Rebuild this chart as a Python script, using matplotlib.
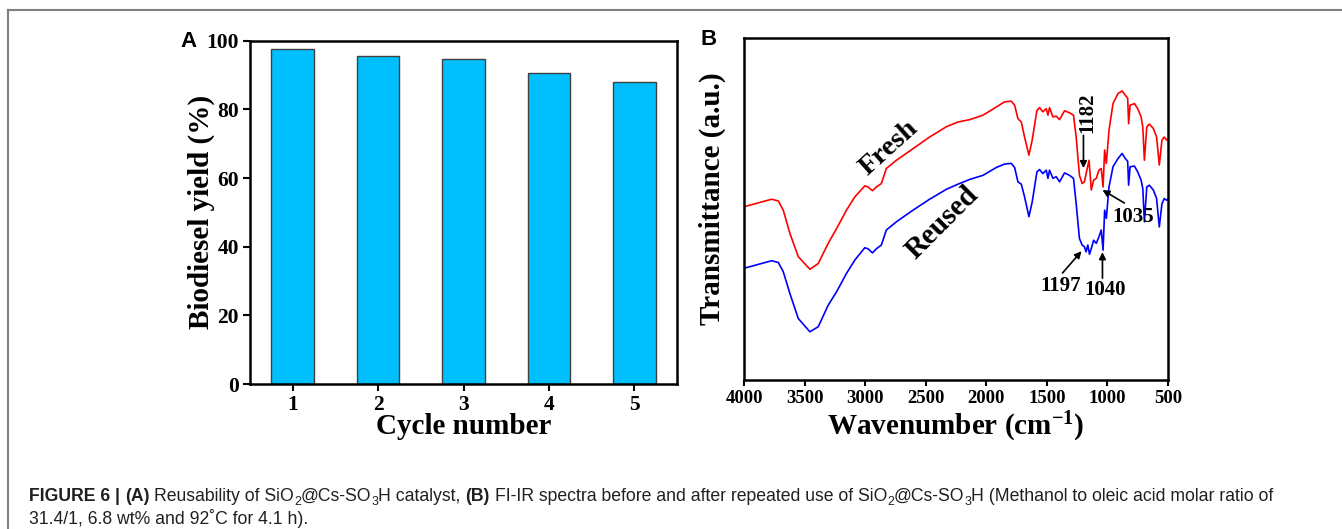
import matplotlib
matplotlib.use('Agg')
import matplotlib.pyplot as plt
from matplotlib import font_manager
from matplotlib.lines import Line2D

# ---- data -------------------------------------------------------------
cycles = [1, 2, 3, 4, 5]
yields = [97.5, 95.5, 94.6, 90.5, 87.9]

fresh_wn = [4000, 4000, 3772, 3717, 3676, 3621, 3552, 3456, 3387, 3305, 3236, 3154,
            3085, 3003, 2976, 2940, 2907, 2866, 2825, 2742, 2605, 2468,
            2330, 2234, 2137, 2027, 1917, 1849, 1794, 1766, 1739, 1711,
            1684, 1648, 1621, 1582, 1560, 1533, 1505, 1491, 1478, 1450,
            1423, 1395, 1354, 1313, 1280, 1258, 1231, 1209, 1190, 1170,
            1152, 1133, 1114, 1092, 1070, 1051, 1036, 1023, 1009, 987,
            954, 913, 879, 852, 833, 825, 813, 777, 750, 722,
            708, 695, 675, 654, 621, 594, 572, 550, 531, 511, 500]
fresh_t = [32.7, 50.7, 52.9, 52.4, 49.7, 42.9, 36.1, 32.4, 34.1, 40.0, 44.3, 49.7,
           53.6, 56.8, 56.5, 55.4, 56.5, 57.5, 61.9, 64.3, 67.7, 71.1,
           74.1, 75.5, 76.2, 77.5, 79.9, 81.4, 81.6, 80.4, 76.5, 75.5,
           71.1, 65.8, 70.2, 78.9, 79.7, 78.5, 79.4, 77.5, 79.7, 77.0,
           77.2, 76.2, 78.8, 78.2, 77.5, 71.1, 59.9, 57.5, 58.0, 61.4,
           64.3, 55.6, 58.5, 59.0, 61.4, 61.9, 56.5, 67.3, 63.4, 73.1,
           80.9, 83.8, 84.6, 83.3, 82.5, 75.0, 80.4, 80.9, 79.4, 77.0,
           74.0, 64.3, 74.1, 74.9, 73.6, 71.1, 62.9, 70.2, 71.1, 70.2, 70.5]

reused_wn = [4000, 4000, 3772, 3717, 3676, 3621, 3552, 3456, 3387, 3305, 3236, 3154,
             3085, 3003, 2976, 2940, 2907, 2866, 2825, 2742, 2605, 2468,
             2330, 2234, 2137, 2027, 1917, 1849, 1794, 1766, 1739, 1711,
             1684, 1648, 1621, 1582, 1560, 1533, 1505, 1491, 1478, 1450,
             1423, 1395, 1354, 1313, 1280, 1258, 1231, 1209, 1190, 1176,
             1162, 1148, 1133, 1114, 1092, 1070, 1051, 1036, 1023, 1009,
             987, 954, 913, 879, 852, 833, 825, 813, 777, 750,
             722, 708, 695, 675, 654, 621, 594, 572, 550, 531, 511, 500]
reused_t = [0.0, 32.7, 34.9, 34.4, 31.7, 25.3, 18.0, 14.1, 15.6, 21.9, 25.8, 31.2,
            35.1, 38.7, 38.4, 37.2, 38.4, 39.5, 43.9, 46.3, 49.7, 52.9,
            55.8, 57.3, 58.7, 59.9, 62.2, 63.2, 63.4, 62.2, 58.0, 57.3,
            53.6, 47.8, 52.1, 60.9, 61.6, 60.4, 61.4, 59.0, 61.4, 59.0,
            59.5, 58.0, 60.6, 59.9, 59.0, 51.6, 41.4, 39.5, 39.0, 37.5,
            39.5, 36.8, 38.5, 40.9, 40.0, 41.9, 43.9, 38.0, 49.7, 47.3,
            56.5, 62.4, 64.8, 66.3, 64.8, 64.0, 57.0, 62.4, 62.6, 60.9,
            58.5, 56.0, 46.3, 56.5, 57.0, 55.6, 53.1, 44.8, 51.6, 53.1, 52.6, 53.0]

# peak labels: text, text position, arrow tail, arrow tip, rotation
peak_labels = [
    ("1182", (1165, 78.1), (1198, 71.6), (1198, 62.0), 90),
    ("1035", (786, 47.7), (860, 51.8), (1041, 55.6), 0),
    ("1197", (1387, 27.5), (1371, 31.3), (1214, 37.7), 0),
    ("1040", (1016, 26.3), (1041, 29.8), (1041, 37.4), 0),
]

caption_line1 = [("FIGURE 6 | ", 'b'), ("(A)", 'b'), (" Reusability of SiO", 'n'), ("2", 's'),
                 ("@Cs-SO", 'n'), ("3", 's'), ("H catalyst, ", 'n'), ("(B)", 'b'),
                 (" FI-IR spectra before and after repeated use of SiO", 'n'), ("2", 's'),
                 ("@Cs-SO", 'n'), ("3", 's'), ("H (Methanol to oleic acid molar ratio of", 'n')]
caption_line2 = [("31.4/1, 6.8 wt% and 92˚C for 4.1 h).", 'n')]

# ---- style ------------------------------------------------------------
plt.rcParams['font.family'] = ['Liberation Serif', 'DejaVu Serif']
plt.rcParams['font.weight'] = 'bold'
plt.rcParams['mathtext.fontset'] = 'custom'
plt.rcParams['mathtext.rm'] = 'Liberation Serif:bold'
plt.rcParams['mathtext.bf'] = 'Liberation Serif:bold'
plt.rcParams['mathtext.default'] = 'bf'

W, H = 1342, 529
fig = plt.figure(figsize=(W / 100, H / 100), dpi=100)


def fx(px):
    return px / W


def fy(py):
    return 1 - py / H


# frame lines around the figure block
fig.add_artist(Line2D([fx(8), 1], [fy(10), fy(10)], transform=fig.transFigure,
                      color='#7f7f7f', lw=1.5))
fig.add_artist(Line2D([fx(8), fx(8)], [fy(10), 0], transform=fig.transFigure,
                      color='#7f7f7f', lw=1.5))

# ---- panel A ----------------------------------------------------------
axA = fig.add_axes([fx(250), fy(384), fx(677) - fx(250), fy(40.7) - fy(384)])
axA.bar(cycles, yields, width=0.5, color='#00BFFF', edgecolor='#404040', linewidth=1.0)
axA.set_xlim(0.5, 5.5)
axA.set_ylim(0, 100)
axA.set_xticks(cycles)
axA.set_yticks([0, 20, 40, 60, 80, 100])
axA.tick_params(direction='out', length=5, width=1.5, labelsize=15.5, pad=3)
for sp in axA.spines.values():
    sp.set_linewidth(1.8)
fig.text(fx(201), fy(212), "Biodiesel yield (%)", rotation=90, ha='center', va='center',
         fontsize=21)
fig.text(fx(463.5), fy(427), "Cycle number", ha='center', va='center', fontsize=21)
fig.text(fx(180), fy(47), "A", family=['Liberation Sans', 'DejaVu Sans'], fontweight='bold',
         fontsize=16, ha='left', va='baseline')

# ---- panel B ----------------------------------------------------------
axB = fig.add_axes([fx(744), fy(380), fx(1168) - fx(744), fy(38.3) - fy(380)])
axB.plot(fresh_wn, fresh_t, color='#FF0000', lw=1.2)
axB.plot(reused_wn, reused_t, color='#0000FF', lw=1.2)
axB.set_xlim(4000, 500)
axB.set_ylim(0, 100)
axB.set_xticks(range(4000, 499, -500))
axB.set_yticks([])
axB.tick_params(direction='out', length=4, width=1.5, labelsize=13.5, pad=3)
for sp in axB.spines.values():
    sp.set_linewidth(1.8)

axB.text(2805, 68.0, "Fresh", rotation=42, ha='center', va='center', fontsize=20.5)
axB.text(2360, 45.9, "Reused", rotation=45, ha='center', va='center', fontsize=21)
for label, txy, tail, tip, rot in peak_labels:
    axB.text(txy[0], txy[1], label, rotation=rot, ha='center', va='center', fontsize=15)
    axB.annotate('', xy=tip, xytext=tail,
                 arrowprops=dict(arrowstyle='-|>', color='black', lw=1.2, mutation_scale=10,
                                 shrinkA=0, shrinkB=0))

fig.text(fx(712), fy(199), "Transmittance (a.u.)", rotation=90, ha='center', va='center',
         fontsize=21)
fig.text(fx(956), fy(427), r"Wavenumber (cm$^{-1}$)", ha='center', va='center', fontsize=21)
fig.text(fx(700), fy(45), "B", family=['Liberation Sans', 'DejaVu Sans'], fontweight='bold',
         fontsize=16, ha='left', va='baseline')


# ---- caption ----------------------------------------------------------
def has_font(name):
    try:
        font_manager.findfont(font_manager.FontProperties(family=name), fallback_to_default=False)
        return True
    except ValueError:
        return False


cap_family = 'Liberation Sans Narrow' if has_font('Liberation Sans Narrow') else 'Liberation Sans'
renderer = fig.canvas.get_renderer()


def run_width(txt, size, weight):
    t = fig.text(0, 0, txt, fontsize=size, fontweight=weight, family=cap_family)
    w = t.get_window_extent(renderer).width
    t.remove()
    return w


def draw_runs(runs, x0, y0, size, draw=True):
    space = run_width("a a", size, 'normal') - run_width("aa", size, 'normal')
    x = x0
    for txt, kind in runs:
        weight = 'bold' if kind == 'b' else 'normal'
        s = size * 0.7 if kind == 's' else size
        dy = size * 0.35 if kind == 's' else 0
        core = txt.strip(' ')
        lead = len(txt) - len(txt.lstrip(' '))
        trail = len(txt) - len(txt.rstrip(' '))
        x += lead * space
        if draw:
            fig.text(fx(x), fy(y0 + dy), core, fontsize=s, fontweight=weight, family=cap_family,
                     ha='left', va='baseline', color='#231f20')
        x += run_width(core, s, weight) + trail * space
    return x - x0


base = 10
cap_size = base * 1251 / draw_runs(caption_line1, 29, 501, base, draw=False)
draw_runs(caption_line1, 29, 501, cap_size)
draw_runs(caption_line2, 29, 524, cap_size)

fig.savefig('out.png', dpi=100)
